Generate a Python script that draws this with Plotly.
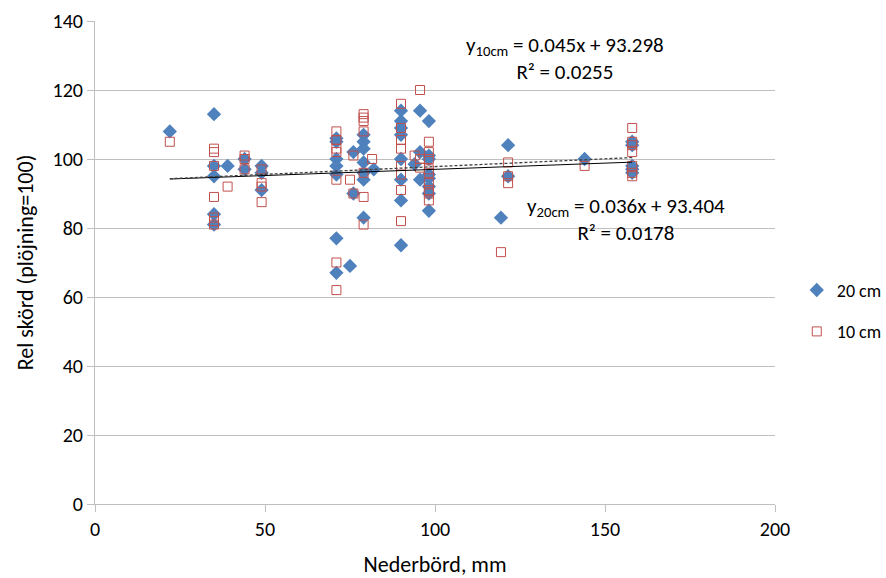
import plotly.graph_objects as go

# 20 cm series (blue diamonds)
x20 = [22, 35, 35, 35, 35, 35, 39, 44, 44, 49, 49, 49,
       71, 71, 71, 71, 71, 71, 71, 75, 76, 76,
       79, 79, 79, 79, 79, 79, 79, 82,
       90, 90, 90, 90, 90, 90, 90, 90, 94, 95.6, 95.6, 95.6,
       98.2, 98.2, 98.2, 98.2, 98.2, 98.2, 98.2, 98.2,
       119.4, 121.5, 121.5, 144, 158, 158, 158, 158, 158]
y20 = [108, 113, 98, 95, 84, 81, 98, 100, 97, 98, 96, 91,
       106, 105, 100, 98, 95.5, 77, 67, 69, 102, 90,
       107, 105, 103, 99, 96, 94, 83, 97,
       114, 111, 109, 107, 100, 94, 88, 75, 98.5, 114, 102, 94,
       111, 101, 100, 95.5, 94.4, 92, 90, 85,
       83, 104, 95, 100, 105, 104, 98, 97, 96]

# 10 cm series (red open squares)
x10 = [22, 35, 35, 35, 35, 35, 35, 35, 39, 44, 44, 44, 49, 49, 49, 49,
       71, 71, 71, 71, 71, 71, 71, 75, 76, 76,
       79, 79, 79, 79, 79, 79, 79, 81.5,
       90, 90, 90, 90, 90, 90, 90, 90, 94, 95.6, 95.6, 95.6,
       98.2, 98.2, 98.2, 98.2, 98.2, 98.2, 98.2, 98.2, 98.2,
       119.4, 121.5, 121.5, 121.5, 144, 158, 158, 158, 158, 158, 158, 158]
y10 = [105, 103, 102, 98, 89, 83, 82, 81, 92, 101, 100, 97, 97, 93, 92, 87.5,
       108, 105.5, 103, 102, 94, 70, 62, 94, 101, 90,
       113, 112, 111, 108, 96, 89, 81, 100,
       116, 109, 105.5, 103, 98, 95.5, 91, 82, 101, 120, 100, 97.5,
       105, 102, 100, 97, 96, 93, 91, 90, 88,
       73, 99, 95, 93, 98, 109, 105, 104, 102, 98, 96, 95]

# Trendline coefficients (from chart labels)
slope10, icept10, r2_10 = 0.045, 93.298, 0.0255
slope20, icept20, r2_20 = 0.036, 93.404, 0.0178

x_ticks = [0, 50, 100, 150, 200]
y_ticks = [0, 20, 40, 60, 80, 100, 120, 140]

FONT = "Calibri, Carlito, Lato, sans-serif"
BLUE = "#4F81BD"
RED = "#C0504D"
GRID = "#BFBFBF"

fig = go.Figure()

fig.add_trace(go.Scatter(
    x=x20, y=y20, mode="markers", name="20 cm", legendgroup="a",
    marker=dict(symbol="diamond", size=11, color=BLUE,
                line=dict(width=0)),
))
fig.add_trace(go.Scatter(
    x=x10, y=y10, mode="markers", name="10 cm", legendgroup="b",
    marker=dict(symbol="square-open", size=9, color=RED,
                line=dict(width=1, color=RED)),
))

xmin20, xmax20 = min(x20), max(x20)
xmin10, xmax10 = min(x10), max(x10)
fig.add_trace(go.Scatter(
    x=[xmin20, xmax20], y=[slope20 * xmin20 + icept20, slope20 * xmax20 + icept20],
    mode="lines", line=dict(color="black", width=1), showlegend=False,
    hoverinfo="skip",
))
fig.add_trace(go.Scatter(
    x=[xmin10, xmax10], y=[slope10 * xmin10 + icept10, slope10 * xmax10 + icept10],
    mode="lines", line=dict(color="#404040", width=1.3, dash="3px,2px"),
    showlegend=False, hoverinfo="skip",
))

fig.add_annotation(
    x=138.2, y=129.0, xref="x", yref="y", showarrow=False,
    text=f"y<sub>10cm</sub> = {slope10}x + {icept10}<br>R² = {r2_10}",
    font=dict(family=FONT, size=21, color="black"), align="center",
)
fig.add_annotation(
    x=156.2, y=82.6, xref="x", yref="y", showarrow=False,
    text=f"y<sub>20cm</sub> = {slope20}x + {icept20}<br>R² = {r2_20}",
    font=dict(family=FONT, size=21, color="black"), align="center",
)

fig.update_layout(
    width=886, height=578,
    margin=dict(l=95, r=111, t=21, b=74, autoexpand=False),
    paper_bgcolor="white", plot_bgcolor="white",
    font=dict(family=FONT, size=20, color="black"),
    showlegend=True,
    legend=dict(x=1.032, y=0.40, xanchor="left", yanchor="middle",
                font=dict(family=FONT, size=18, color="black"),
                itemwidth=30,
                tracegroupgap=15, traceorder="grouped",
                bgcolor="rgba(0,0,0,0)"),
    xaxis=dict(range=[0, 200], tickvals=x_ticks, showgrid=False,
               showline=True, linecolor=GRID, linewidth=1,
               ticks="outside", ticklen=7, tickcolor=GRID,
               zeroline=False, tickfont=dict(size=20), automargin=False,
               title=dict(text="Nederbörd, mm", font=dict(family=FONT, size=22), standoff=16)),
    yaxis=dict(range=[0, 140], tickvals=y_ticks, showgrid=True,
               gridcolor=GRID, gridwidth=1,
               showline=True, linecolor=GRID, linewidth=1,
               ticks="outside", ticklen=7, tickcolor=GRID,
               zeroline=False, tickfont=dict(size=20), automargin=False,
               title=dict(text="Rel skörd (plöjning=100)", font=dict(family=FONT, size=22), standoff=12)),
)

fig.write_html("out.html", config={"displayModeBar": False})
